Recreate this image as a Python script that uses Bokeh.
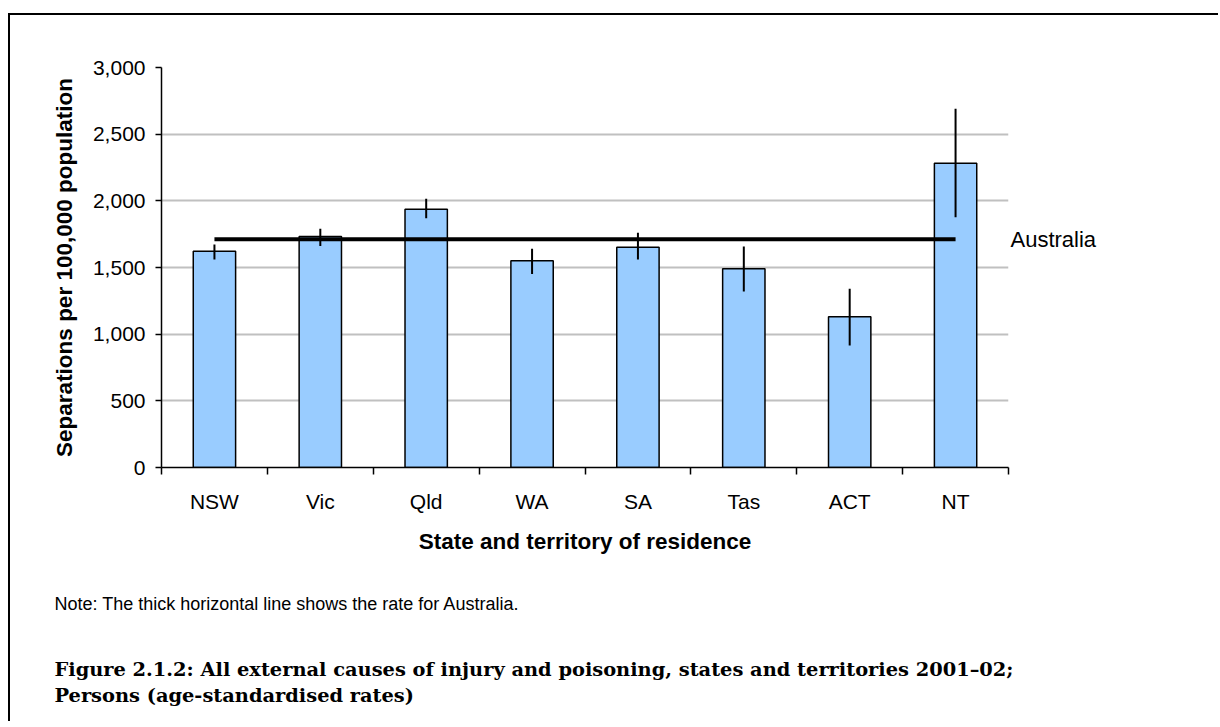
from bokeh.plotting import figure
from bokeh.models import (Range1d, FixedTicker, NumeralTickFormatter, LinearAxis,
                          Title, ColumnDataSource)
from bokeh.embed import file_html
from bokeh.resources import INLINE

# ---- data ----
categories = ["NSW", "Vic", "Qld", "WA", "SA", "Tas", "ACT", "NT"]
rates = [1622, 1732, 1937, 1550, 1652, 1490, 1130, 2282]
ci_lower = [1560, 1662, 1870, 1452, 1560, 1320, 915, 1877]
ci_upper = [1672, 1790, 2015, 1640, 1760, 1657, 1340, 2690]
australia_rate = 1712
australia_label = "Australia"
y_ticks = [0, 500, 1000, 1500, 2000, 2500, 3000]

x_title = "State and territory of residence"
y_title = "Separations per 100,000 population"
note_text = "Note: The thick horizontal line shows the rate for Australia."
caption_1 = "Figure 2.1.2: All external causes of injury and poisoning, states and territories 2001\u201302;"
caption_2 = "Persons (age-standardised rates)"

n = len(categories)
xs = [i + 0.5 for i in range(n)]
src = ColumnDataSource(dict(x=xs, cat=categories, rate=rates, lo=ci_lower, hi=ci_upper))

# canvas starts at page (10, 15) because of margin + 2px border
W, H = 1210, 708
p = figure(width=W, height=H, output_backend="svg", toolbar_location=None,
           x_range=Range1d(0, n), y_range=Range1d(0, 3000),
           min_border_left=151, min_border_top=52, min_border_right=212,
           min_border_bottom=256)
p.outline_line_color = None
p.background_fill_color = "white"
p.border_fill_color = "white"
p.styles = {"margin-left": "8px", "margin-top": "13px",
            "border-left": "2px solid black", "border-top": "2px solid black"}

SANS = "Liberation Sans"

# bars
p.vbar(x="x", top="rate", bottom=0, width=0.4, source=src,
       fill_color="#99ccff", line_color="black", line_width=1.5)
# error bars
p.segment(x0="x", y0="lo", x1="x", y1="hi", source=src,
          line_color="black", line_width=2)
# Australia line
p.line(x=[xs[0], xs[-1]], y=[australia_rate, australia_rate],
       line_color="black", line_width=4)

# grid
p.xgrid.grid_line_color = None
p.ygrid.grid_line_color = "#c0c0c0"
p.ygrid.grid_line_width = 2
p.ygrid.ticker = FixedTicker(ticks=y_ticks)

# y axis
ya = p.yaxis[0]
ya.ticker = FixedTicker(ticks=y_ticks)
ya.formatter = NumeralTickFormatter(format="0,0")
ya.axis_line_color = "black"
ya.axis_line_width = 1.5
ya.major_tick_line_color = "black"
ya.major_tick_line_width = 1.5
ya.major_tick_out = 6
ya.major_tick_in = 0
ya.minor_tick_line_color = None
ya.major_label_text_font = SANS
ya.major_label_text_font_size = "21px"
ya.major_label_text_color = "black"
ya.major_label_standoff = 10
ya.axis_label = y_title
ya.axis_label_text_font = SANS
ya.axis_label_text_font_style = "bold"
ya.axis_label_text_font_size = "22.5px"
ya.axis_label_text_color = "black"
ya.axis_label_standoff = 13

# x axis: labels at centres, tick marks at category boundaries
xa = p.xaxis[0]
xa.ticker = FixedTicker(ticks=xs, minor_ticks=list(range(n + 1)))
xa.major_label_overrides = {x: c for x, c in zip(xs, categories)}
xa.axis_line_color = "black"
xa.axis_line_width = 1.5
xa.major_tick_line_color = None
xa.major_tick_out = 0
xa.major_tick_in = 0
xa.minor_tick_line_color = "black"
xa.minor_tick_line_width = 1.5
xa.minor_tick_out = 7
xa.minor_tick_in = 0
xa.major_label_text_font = SANS
xa.major_label_text_font_size = "21px"
xa.major_label_text_color = "black"
xa.major_label_standoff = 15
xa.axis_label = x_title
xa.axis_label_text_font = SANS
xa.axis_label_text_font_style = "bold"
xa.axis_label_text_font_size = "22.5px"
xa.axis_label_text_color = "black"
xa.axis_label_standoff = 13

# Australia label as a right-hand axis tick label
ra = LinearAxis(ticker=FixedTicker(ticks=[australia_rate]),
                major_label_overrides={australia_rate: australia_label})
ra.axis_line_color = None
ra.major_tick_line_color = None
ra.minor_tick_line_color = None
ra.major_tick_out = 0
ra.major_tick_in = 0
ra.major_label_standoff = 2
ra.major_label_text_font = SANS
ra.major_label_text_font_size = "22px"
ra.major_label_text_color = "black"
p.add_layout(ra, "right")

# note and caption as titles below
p.add_layout(Title(text=note_text, align="left", offset=-107, standoff=70,
                   text_font=SANS, text_font_style="normal", text_font_size="18px",
                   text_color="black"), "below")
p.add_layout(Title(text=caption_1 + "\n" + caption_2, align="left", offset=-107,
                   standoff=16, text_line_height=1.15,
                   text_font="DejaVu Serif", text_font_style="bold",
                   text_font_size="19.4px", text_color="black"), "below")

open("out.html", "w").write(file_html(p, INLINE))
